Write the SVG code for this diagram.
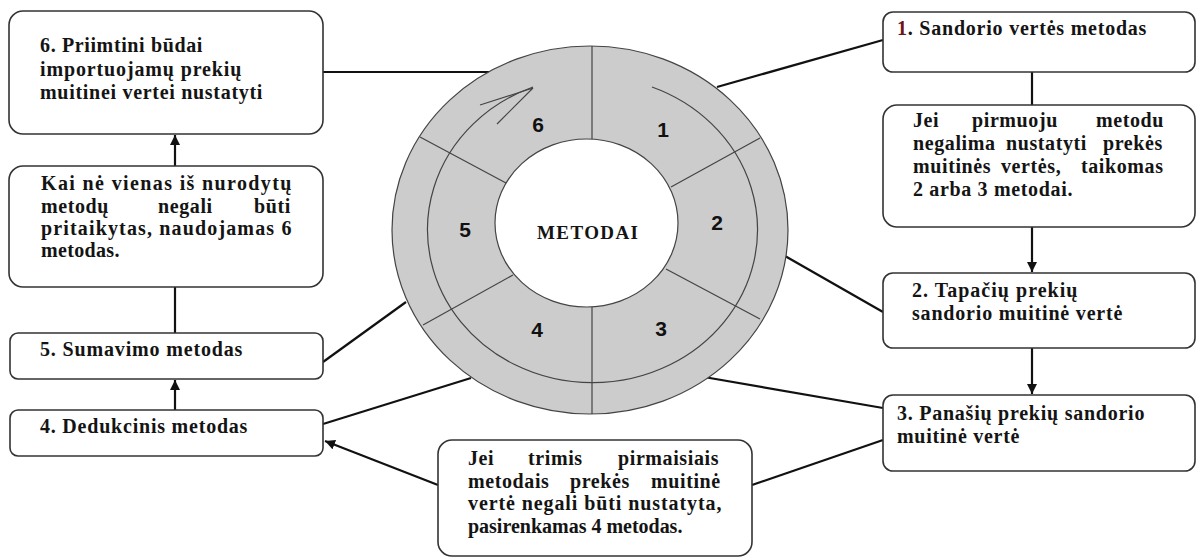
<svg xmlns="http://www.w3.org/2000/svg" width="1198" height="560" viewBox="0 0 1198 560">
<style>
.box{fill:#fff;stroke:#333;stroke-width:1.6}
.t{font-family:"Liberation Serif","Times New Roman",serif;font-weight:bold;font-size:20px;fill:#141414;letter-spacing:0.6px}
.num{font-family:"Liberation Sans",Arial,sans-serif;font-weight:bold;font-size:21px;fill:#111;text-anchor:middle}
.ring{fill:#cccccc;stroke:#444;stroke-width:1.2}
.div{stroke:#444;stroke-width:1.2;fill:none}
.con{stroke:#111;stroke-width:2.2;fill:none}
</style>
<defs>
<marker id="ah" markerUnits="userSpaceOnUse" markerWidth="11" markerHeight="11" refX="10" refY="5" orient="auto">
<path d="M0,0 L10,5 L0,10 z" fill="#111"/>
</marker>
</defs>

<g id="connectors">
<path class="con" d="M175 166 L175 135" marker-end="url(#ah)"/>
<path class="con" d="M175 287 L175 333"/>
<path class="con" d="M175 410 L175 380" marker-end="url(#ah)"/>
<path class="con" d="M323 72 L489 72"/>
<path class="con" d="M323 362 L406 302"/>
<path class="con" d="M323 424 L471 378"/>
<path class="con" d="M438 485 L325 441" marker-end="url(#ah)"/>
<path class="con" d="M752 485 L883 440"/>
<path class="con" d="M717 87 L883 40"/>
<path class="con" d="M785 256 L883 312"/>
<path class="con" d="M704 377 L883 408"/>
<path class="con" d="M1032 72 L1032 105"/>
<path class="con" d="M1032 227 L1032 272" marker-end="url(#ah)"/>
<path class="con" d="M1032 348 L1032 394" marker-end="url(#ah)"/>
</g>

<g id="circle">
<ellipse class="ring" cx="590" cy="230" rx="198" ry="184"/>
<ellipse cx="586.5" cy="223" rx="91.5" ry="84" fill="#fff" stroke="#444" stroke-width="1.2"/>
<path class="div" d="M592 46 L592 139 M760 138 L671 187 M760 319 L666 269 M592 307 L592 414 M423 325 L513 275 M420 137 L506 183"/>
<path class="div" d="M652 87 A165 153 0 1 1 533 87"/>
<path class="div" d="M480 105 L533 88 L497 124"/>
<text class="num" x="538" y="132">6</text>
<text class="num" x="663" y="137">1</text>
<text class="num" x="717" y="230">2</text>
<text class="num" x="465" y="237">5</text>
<text class="num" x="537" y="337">4</text>
<text class="num" x="661" y="336">3</text>
<text x="537" y="239" textLength="101" font-family="Liberation Serif, Times New Roman, serif" font-weight="bold" font-size="19" fill="#141414">METODAI</text>
</g>

<g id="n6">
<rect class="box" x="9" y="11" width="314" height="123" rx="14"/>
<text class="t" x="40" y="52" textLength="163">6. Priimtini būdai</text>
<text class="t" x="40" y="76" textLength="202">importuojamų prekių</text>
<text class="t" x="40" y="99" textLength="223">muitinei vertei nustatyti</text>
</g>

<g id="n6note">
<rect class="box" x="9" y="166" width="314" height="121" rx="14"/>
<text class="t" x="41" y="190" textLength="251">Kai nė vienas iš nurodytų</text>
<text class="t" y="213"><tspan x="41">metodų</tspan><tspan x="158">negali</tspan><tspan x="254">būti</tspan></text>
<text class="t" x="41" y="235" textLength="251">pritaikytas, naudojamas 6</text>
<text class="t" x="41" y="257" textLength="79">metodas.</text>
</g>

<g id="n5">
<rect class="box" x="10" y="333" width="313" height="46" rx="8"/>
<text class="t" x="40" y="356" textLength="203">5. Sumavimo metodas</text>
</g>

<g id="n4">
<rect class="box" x="10" y="410" width="313" height="46" rx="8"/>
<text class="t" x="40" y="433" textLength="208">4. Dedukcinis metodas</text>
</g>

<g id="n4note">
<rect class="box" x="438" y="440" width="314" height="116" rx="14"/>
<text class="t" y="465"><tspan x="468">Jei</tspan><tspan x="528">trimis</tspan><tspan x="618">pirmaisiais</tspan></text>
<text class="t" y="488"><tspan x="468">metodais</tspan><tspan x="570">prekės</tspan><tspan x="651">muitinė</tspan></text>
<text class="t" x="468" y="510" textLength="254">vertė negali būti nustatyta,</text>
<text class="t" x="468" y="533" textLength="215">pasirenkamas 4 metodas.</text>
</g>

<g id="n1">
<rect class="box" x="883" y="12" width="312" height="60" rx="10"/>
<text class="t" x="897" y="35" textLength="250"><tspan fill="#6e1414">1</tspan>. Sandorio vertės metodas</text>
</g>

<g id="n1note">
<rect class="box" x="883" y="105" width="312" height="122" rx="14"/>
<text class="t" y="127"><tspan x="913">Jei</tspan><tspan x="972">pirmuoju</tspan><tspan x="1096">metodu</tspan></text>
<text class="t" y="150"><tspan x="913">negalima</tspan><tspan x="1006">nustatyti</tspan><tspan x="1103">prekės</tspan></text>
<text class="t" y="173"><tspan x="913">muitinės</tspan><tspan x="1001">vertės,</tspan><tspan x="1081">taikomas</tspan></text>
<text class="t" x="913" y="196" textLength="160">2 arba 3 metodai.</text>
</g>

<g id="n2">
<rect class="box" x="883" y="273" width="312" height="75" rx="10"/>
<text class="t" x="912" y="297" textLength="166">2. Tapačių prekių</text>
<text class="t" x="912" y="320" textLength="211">sandorio muitinė vertė</text>
</g>

<g id="n3">
<rect class="box" x="883" y="395" width="312" height="76" rx="10"/>
<text class="t" x="897" y="420" textLength="248">3. Panašių prekių sandorio</text>
<text class="t" x="897" y="443" textLength="123">muitinė vertė</text>
</g>
</svg>
